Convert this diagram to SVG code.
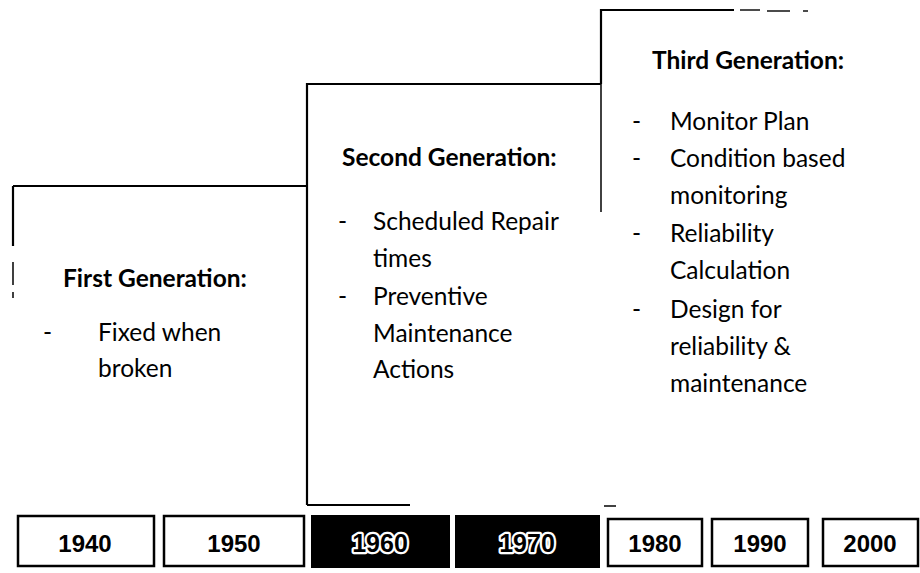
<svg xmlns="http://www.w3.org/2000/svg" width="920" height="573" viewBox="0 0 920 573">
  <style>
    .edge { fill: none; stroke: #000; stroke-width: 2.2; }
    .faint { fill: none; stroke: #111; stroke-width: 1.6; }
    .head { font-family: Lato, "Liberation Sans", sans-serif; font-weight: bold; font-size: 24.5px; fill: #000; }
    .item { font-family: Lato, "Liberation Sans", sans-serif; font-size: 24.5px; fill: #000; }
    .yr-box { fill: #fff; stroke: #000; stroke-width: 2.5; }
    .yr-dark { fill: #000; stroke: #000; stroke-width: 2; }
    .yr { font-family: "Liberation Sans", Arial, sans-serif; font-weight: bold; font-size: 24px; text-anchor: middle; fill: #000; }
    .yr-inv { font-family: "Liberation Sans", Arial, sans-serif; font-weight: bold; font-size: 25px; text-anchor: middle; fill: #000; stroke: #fff; stroke-width: 4.5; stroke-linejoin: round; paint-order: stroke; }
  </style>

  <rect width="920" height="573" fill="#fff"/>

  <!-- step outline separating the three generations -->
  <g id="connectors">
    <path class="edge" d="M13 186 H307"/>
    <path class="edge" d="M13 186 V246"/>
    <path class="faint" d="M13 262 V285 M13 292 V298"/>
    <path class="edge" d="M307 505 V84 H601"/>
    <path class="edge" d="M307 505 H410"/>
    <path class="edge" d="M601 84 V10 H734"/>
    <path class="faint" d="M601 84 V212"/>
    <path class="faint" d="M740 10 H760 M767 11 H790 M803 11 H808"/>
    <path class="faint" d="M604 506 H616"/>
  </g>

  <g id="first-generation">
    <text class="head" x="63" y="287">First Generation:</text>
    <text class="item" x="43" y="341">-</text>
    <text class="item" x="98" y="341">Fixed when</text>
    <text class="item" x="98" y="377">broken</text>
  </g>

  <g id="second-generation">
    <text class="head" x="342" y="166">Second Generation:</text>
    <text class="item" x="338" y="230">-</text>
    <text class="item" x="373" y="230">Scheduled Repair</text>
    <text class="item" x="373" y="267">times</text>
    <text class="item" x="338" y="305">-</text>
    <text class="item" x="373" y="305">Preventive</text>
    <text class="item" x="373" y="342">Maintenance</text>
    <text class="item" x="373" y="378">Actions</text>
  </g>

  <g id="third-generation">
    <text class="head" x="652" y="69">Third Generation:</text>
    <text class="item" x="632" y="130">-</text>
    <text class="item" x="670" y="130">Monitor Plan</text>
    <text class="item" x="632" y="167">-</text>
    <text class="item" x="670" y="167">Condition based</text>
    <text class="item" x="670" y="204">monitoring</text>
    <text class="item" x="632" y="242">-</text>
    <text class="item" x="670" y="242">Reliability</text>
    <text class="item" x="670" y="279">Calculation</text>
    <text class="item" x="632" y="318">-</text>
    <text class="item" x="670" y="318">Design for</text>
    <text class="item" x="670" y="355">reliability &amp;</text>
    <text class="item" x="670" y="392">maintenance</text>
  </g>

  <!-- timeline of decades -->
  <g id="year-1940">
    <rect class="yr-box" x="18" y="516" width="136" height="50"/>
    <text class="yr" x="85" y="552">1940</text>
  </g>
  <g id="year-1950">
    <rect class="yr-box" x="164" y="516" width="140" height="50"/>
    <text class="yr" x="234" y="552">1950</text>
  </g>
  <g id="year-1960">
    <rect class="yr-dark" x="312" y="516" width="137" height="51"/>
    <text class="yr-inv" x="380" y="552">1960</text>
  </g>
  <g id="year-1970">
    <rect class="yr-dark" x="456" y="516" width="143" height="51"/>
    <text class="yr-inv" x="527" y="552">1970</text>
  </g>
  <g id="year-1980">
    <rect class="yr-box" x="608" y="519" width="94" height="47"/>
    <text class="yr" x="655" y="552">1980</text>
  </g>
  <g id="year-1990">
    <rect class="yr-box" x="712" y="519" width="96" height="47"/>
    <text class="yr" x="760" y="552">1990</text>
  </g>
  <g id="year-2000">
    <rect class="yr-box" x="823" y="519" width="95" height="47"/>
    <text class="yr" x="870" y="552">2000</text>
  </g>
</svg>
